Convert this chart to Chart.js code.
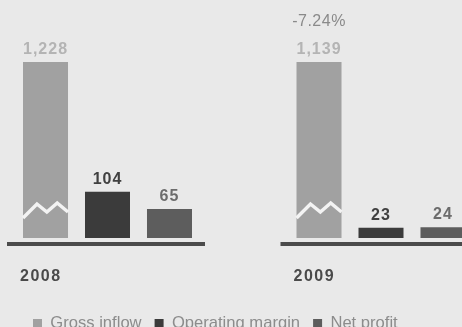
<!DOCTYPE html>
<html>
<head>
<meta charset="utf-8">
<script src="https://cdn.jsdelivr.net/npm/chart.js@4/dist/chart.umd.min.js"></script>
<style>
  html, body { margin: 0; padding: 0; background: #e9e9e9; overflow: hidden; }
  #wrap { position: relative; width: 462px; height: 342px; }
  canvas { display: block; }
</style>
</head>
<body>
<div id="wrap"><canvas id="chart" width="462" height="342"></canvas></div>
<script>
// Yearly figures
const years = ['2008', '2009'];
const grossInflow = [1228, 1139];
const operatingMargin = [104, 23];
const netProfit = [65, 24];
const changeLabels = ['', '-7.24%'];   // change in gross inflow vs. previous year
const seriesNames = ['Gross inflow', 'Operating margin', 'Net profit'];

const barColors = ['#a1a1a1', '#3b3b3b', '#5d5d5d'];
const valueColors = ['#b4b4b4', '#404040', '#6c6c6c'];
const axisMax = 396;   // bars taller than this are cut with an axis break

const FONT = '"Liberation Sans", Arial, sans-serif';

// Baseline under each year's group, plus the year caption
const groupBase = {
  id: 'groupBase',
  afterDatasetsDraw(chart) {
    const ctx = chart.ctx;
    const area = chart.chartArea;
    const first = chart.getDatasetMeta(0).data;
    const last = chart.getDatasetMeta(chart.data.datasets.length - 1).data;
    ctx.save();
    years.forEach((yr, i) => {
      const b0 = first[i], b1 = last[i];
      const x0 = b0.x - b0.width / 2;
      const x1 = b1.x + b1.width / 2;
      ctx.strokeStyle = '#4b4b4b';
      ctx.lineWidth = 4;
      ctx.beginPath();
      ctx.moveTo(x0 - 16, area.bottom + 6);
      ctx.lineTo(x1 + 13, area.bottom + 6);
      ctx.stroke();

      ctx.fillStyle = '#4a4a4a';
      ctx.font = 'bold 16px ' + FONT;
      ctx.letterSpacing = '1.5px';
      ctx.textAlign = 'left';
      ctx.textBaseline = 'alphabetic';
      ctx.fillText(yr, x0 - 3, area.bottom + 43);
    });
    ctx.restore();
  }
};

// White zigzag across bars that run past the top of the axis
const axisBreak = {
  id: 'axisBreak',
  afterDatasetsDraw(chart) {
    const ctx = chart.ctx;
    const fx = [0, 0.31, 0.53, 0.76, 1];
    const rise = [20, 34, 26, 35, 26];
    ctx.save();
    chart.data.datasets.forEach((ds, di) => {
      chart.getDatasetMeta(di).data.forEach((bar, i) => {
        if (ds.data[i] <= axisMax) return;
        const left = bar.x - bar.width / 2;
        ctx.strokeStyle = '#f3f3f3';
        ctx.lineWidth = 3.5;
        ctx.lineJoin = 'miter';
        ctx.beginPath();
        fx.forEach((f, k) => {
          const px = left + f * bar.width;
          const py = bar.base - rise[k];
          if (k === 0) ctx.moveTo(px, py); else ctx.lineTo(px, py);
        });
        ctx.stroke();
      });
    });
    ctx.restore();
  }
};

// Value labels above every bar, and the year-on-year change above gross inflow
const valueLabels = {
  id: 'valueLabels',
  afterDatasetsDraw(chart) {
    const ctx = chart.ctx;
    const area = chart.chartArea;
    ctx.save();
    ctx.textAlign = 'center';
    ctx.textBaseline = 'alphabetic';
    chart.data.datasets.forEach((ds, di) => {
      chart.getDatasetMeta(di).data.forEach((bar, i) => {
        const top = Math.max(bar.y, area.top);
        ctx.font = 'bold 16px ' + FONT;
        ctx.letterSpacing = '1px';
        ctx.fillStyle = valueColors[di];
        ctx.fillText(ds.data[i].toLocaleString('en-US'), bar.x, top - 8);
        if (di === 0 && changeLabels[i]) {
          ctx.font = '16px ' + FONT;
          ctx.letterSpacing = '0.5px';
          ctx.fillStyle = '#8a8a8a';
          ctx.fillText(changeLabels[i], bar.x, top - 36);
        }
      });
    });
    ctx.restore();
  }
};

const seriesData = [grossInflow, operatingMargin, netProfit];

new Chart(document.getElementById('chart'), {
  type: 'bar',
  data: {
    labels: years,
    datasets: seriesNames.map((name, i) => ({
      label: name,
      data: seriesData[i],
      backgroundColor: barColors[i],
      borderWidth: 0,
      categoryPercentage: 0.68,
      barPercentage: 0.726,
      clip: { left: false, right: false, top: 0, bottom: 0 }
    }))
  },
  options: {
    responsive: false,
    animation: false,
    events: [],
    layout: { padding: { left: 20, right: 0, top: 62, bottom: 0.2 } },
    scales: {
      x: {
        type: 'category',
        offset: false,
        grid: { display: false },
        border: { display: false },
        ticks: { display: false },
        afterFit(s) { s.height = 64.2; }
      },
      y: {
        min: 0,
        max: axisMax,
        position: 'left',
        grid: { display: false },
        border: { display: false },
        ticks: { display: false },
        afterFit(s) { s.width = 87.5; }
      },
      yRight: {
        type: 'linear',
        position: 'right',
        grid: { display: false },
        border: { display: false },
        ticks: { display: false },
        afterFit(s) { s.width = 81; }
      }
    },
    plugins: {
      tooltip: { enabled: false },
      legend: {
        position: 'bottom',
        align: 'start',
        labels: {
          boxWidth: 9,
          boxHeight: 9,
          padding: 13,
          color: '#8c8c8c',
          font: { family: FONT, size: 16.6 }
        }
      }
    }
  },
  plugins: [groupBase, axisBreak, valueLabels]
});
</script>
</body>
</html>
